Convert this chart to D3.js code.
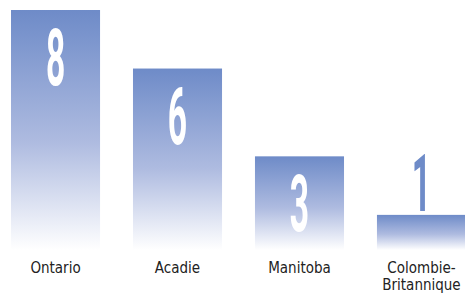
<!DOCTYPE html>
<html>
<head>
<meta charset="utf-8">
<script src="https://cdn.jsdelivr.net/npm/d3@7"></script>
<style>
  body { margin: 0; background: #fff; }
  svg { display: block; }
</style>
</head>
<body>
<svg></svg>
<script>
var provinces = ["Ontario", "Acadie", "Manitoba", "Colombie-Britannique"]
var labelLines = [["Ontario"], ["Acadie"], ["Manitoba"], ["Colombie-", "Britannique"]]
var counts = [8, 6, 3, 1]

var width = 465
var height = 295
var baseY = 250

var data = provinces.map((p, i) => ({ name: p, lines: labelLines[i], value: counts[i] }))

var svg = d3.select("svg")
    .attr("width", width)
    .attr("height", height)

/* Scales */
var xScale = d3.scaleBand()
    .domain(provinces)
    .range([11, 466])
    .paddingInner(0.27)
    .paddingOuter(0)

var yScale = d3.scaleLinear()
    .domain([-0.2, 8])
    .range([baseY, 10])

/* Gradient */
var grad = svg.append("defs").append("linearGradient")
    .attr("id", "barGrad")
    .attr("x1", 0).attr("y1", 0)
    .attr("x2", 0).attr("y2", 1)
grad.append("stop").attr("offset", "0%").attr("stop-color", "#6e8bc8")
grad.append("stop").attr("offset", "55%").attr("stop-color", "#aebbe0")
grad.append("stop").attr("offset", "100%").attr("stop-color", "#ffffff")

/* Bars */
svg.append("g")
    .selectAll("rect")
    .data(data)
    .enter()
        .append("rect")
            .attr("x", (d) => xScale(d.name))
            .attr("y", (d) => yScale(d.value))
            .attr("width", xScale.bandwidth())
            .attr("height", (d) => baseY - yScale(d.value))
            .attr("fill", "url(#barGrad)")

/* Value numbers */
var isInside = (d) => baseY - yScale(d.value) > 70

svg.append("g")
    .selectAll("text")
    .data(data)
    .enter()
        .append("text")
            .attr("transform", (d) => {
                var ty = isInside(d) ? yScale(d.value) + 75 : yScale(d.value) - 4
                return "translate(" + (xScale(d.name) + xScale.bandwidth() / 2) + "," + ty + ") scale(0.42,1)"
            })
            .attr("text-anchor", "middle")
            .style("font-family", "Roboto, sans-serif")
            .style("font-weight", "700")
            .style("font-size", "80px")
            .attr("fill", (d) => isInside(d) ? "#ffffff" : "#6e8bc8")
            .text((d) => d.value)

/* Category labels */
var labels = svg.append("g")
    .selectAll("text")
    .data(data)
    .enter()
        .append("text")
            .attr("x", (d) => xScale(d.name) + xScale.bandwidth() / 2)
            .attr("y", 273)
            .attr("text-anchor", "middle")
            .attr("font-family", "'DejaVu Sans Condensed', sans-serif")
            .attr("font-size", 15)
            .attr("fill", "#222")

labels.selectAll("tspan")
    .data((d) => d.lines.map((l) => ({ line: l, x: xScale(d.name) + xScale.bandwidth() / 2 })))
    .enter()
        .append("tspan")
            .attr("x", (t) => t.x)
            .attr("dy", (t, i) => i === 0 ? 0 : 17)
            .text((t) => t.line)
</script>
</body>
</html>
